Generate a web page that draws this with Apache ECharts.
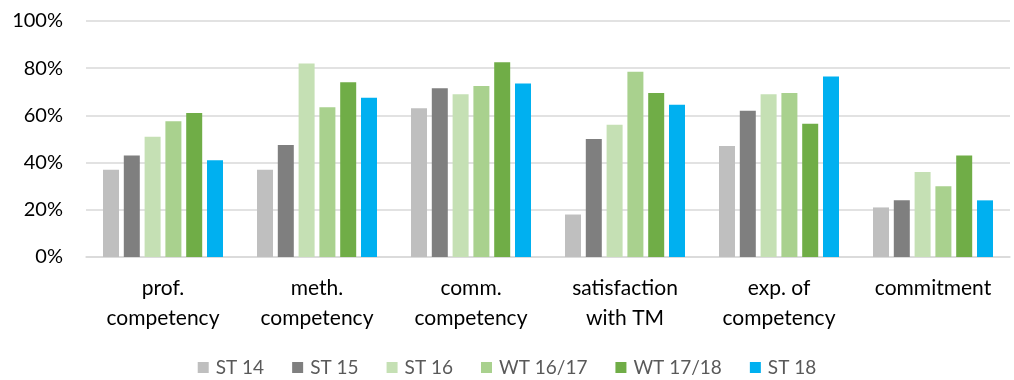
<!DOCTYPE html>
<html>
<head>
<meta charset="utf-8">
<script src="https://cdn.jsdelivr.net/npm/echarts@6/dist/echarts.min.js"></script>
<style>
  html, body { margin: 0; padding: 0; background: #fff; }
  #chart { width: 1014px; height: 380px; }
</style>
</head>
<body>
<div id="chart"></div>
<script>
// Categories (two-line axis labels)
const categories = [
  'prof.\ncompetency',
  'meth.\ncompetency',
  'comm.\ncompetency',
  'satisfaction\nwith TM',
  'exp. of\ncompetency',
  'commitment'
];

// Share per survey term (%)
const st14   = [37, 37, 63, 18, 47, 21];
const st15   = [43, 47.5, 71.5, 50, 62, 24];
const st16   = [51, 82, 69, 56, 69, 36];
const wt1617 = [57.5, 63.5, 72.5, 78.5, 69.5, 30];
const wt1718 = [61, 74, 82.5, 69.5, 56.5, 43];
const st18   = [41, 67.5, 73.5, 64.5, 76.5, 24];

const seriesNames = ['ST 14', 'ST 15', 'ST 16', 'WT 16/17', 'WT 17/18', 'ST 18'];
const seriesData = [st14, st15, st16, wt1617, wt1718, st18];
const seriesColors = ['#bfbfbf', '#7f7f7f', '#c5e0b4', '#a9d18e', '#70ad47', '#00b0f0'];

const font = 'Lato, "Open Sans", sans-serif';

const chart = echarts.init(document.getElementById('chart'));
chart.setOption({
  animation: false,
  color: seriesColors,
  grid: { left: 86, right: 4, top: 21, bottom: 123, containLabel: false },
  legend: {
    top: 353,
    left: 'center',
    itemWidth: 11,
    itemHeight: 11,
    itemGap: 28,
    icon: 'rect',
    textStyle: { fontFamily: font, fontSize: 19, color: '#595959', padding: [0, 0, 0, 2] },
    data: seriesNames
  },
  xAxis: {
    type: 'category',
    data: categories,
    axisLine: { show: true, lineStyle: { color: '#d9d9d9', width: 1.5 } },
    axisTick: { show: false },
    axisLabel: {
      interval: 0,
      fontFamily: font, fontSize: 21, color: '#000', margin: 16, lineHeight: 30
    }
  },
  yAxis: {
    type: 'value',
    min: 0,
    max: 100,
    interval: 20,
    axisLine: { show: false },
    axisTick: { show: false },
    splitLine: { lineStyle: { color: '#d9d9d9', width: 1.5 } },
    axisLabel: {
      formatter: '{value}%',
      fontFamily: font, fontSize: 20, color: '#000', margin: 23
    }
  },
  series: seriesNames.map((name, i) => ({
    name,
    type: 'bar',
    data: seriesData[i],
    barWidth: 16,
    barGap: '30%',
    itemStyle: { color: seriesColors[i] }
  }))
});
</script>
</body>
</html>
